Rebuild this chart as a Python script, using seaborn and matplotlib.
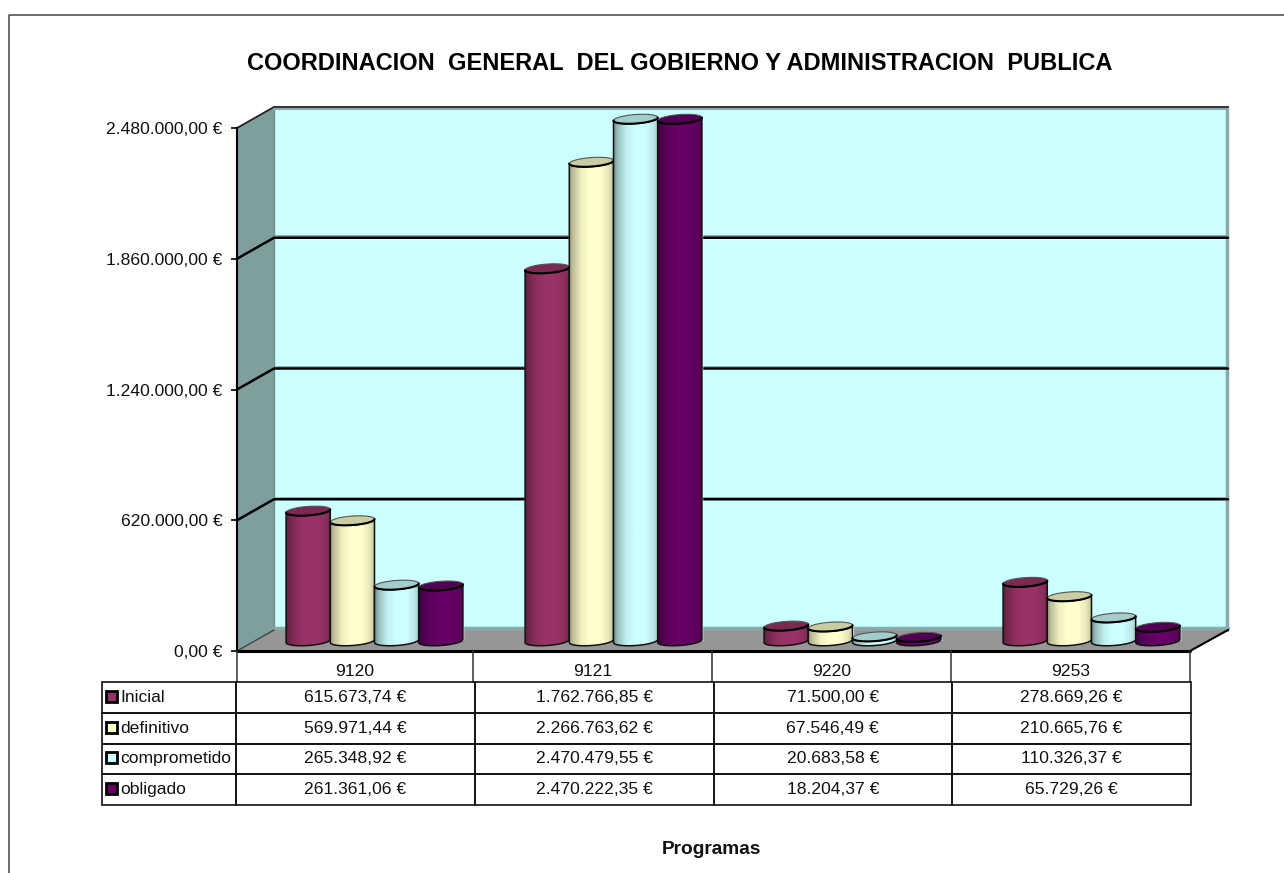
# Presupuesto por programas, columnas cilindricas con tabla de datos debajo

import numpy as np
import pandas as pd
import matplotlib.pyplot as plt
from matplotlib.patches import Polygon, Rectangle
import seaborn as sns

programas = ["9120", "9121", "9220", "9253"]
partidas = ["Inicial", "definitivo", "comprometido", "obligado"]
inicial = [615673.74, 1762766.85, 71500.00, 278669.26]
definitivo = [569971.44, 2266763.62, 67546.49, 210665.76]
comprometido = [265348.92, 2470479.55, 20683.58, 110326.37]
obligado = [261361.06, 2470222.35, 18204.37, 65729.26]
ticks = [0, 620000, 1240000, 1860000, 2480000]
titulo = "COORDINACION  GENERAL  DEL GOBIERNO Y ADMINISTRACION  PUBLICA"
colores = ["#993366", "#FFFFCC", "#CCFFFF", "#660066"]
tapas = ["#7A2952", "#CCCCA3", "#A3CCCC", "#520052"]


def euros(v):
    return f"{v:,.2f} €".replace(",", "#").replace(".", ",").replace("#", ".")


valores = [inicial, definitivo, comprometido, obligado]
df = pd.DataFrame({"programa": programas * 4,
                   "partida": np.repeat(partidas, 4),
                   "importe": np.concatenate(valores)})

sns.set_theme(style="white")
plt.rcParams["font.family"] = ["Liberation Sans", "DejaVu Sans"]

W, H = 1284, 873
fig = plt.figure(figsize=(W / 100, H / 100), dpi=100)


def caja(x0, y0, x1, y1):
    # caja en pixeles de la imagen a coordenadas de figura
    return [x0 / W, 1 - y1 / H, (x1 - x0) / W, (y1 - y0) / H]


# fondo en pixeles: paredes y suelo
fondo = fig.add_axes([0, 0, 1, 1], zorder=0)
fondo.set_xlim(0, W)
fondo.set_ylim(H, 0)
fondo.axis("off")

# eje de valores en el plano frontal
eje = fig.add_axes(caja(237, 128, 1190, 651), zorder=1)
eje.set_facecolor("none")
eje.set_xlim(0, 1)
eje.set_ylim(0, 2480000)
eje.set_xticks([])
eje.set_yticks(ticks)
eje.set_yticklabels([euros(t) for t in ticks], fontsize=12.6, color="#111111")
eje.tick_params(axis="y", length=4.5, width=1.2, color="black", left=True, pad=6)
for lado in ["top", "right", "bottom"]:
    eje.spines[lado].set_visible(False)
eje.spines["left"].set_color("black")
eje.spines["left"].set_linewidth(1.5)

# columnas
ax = fig.add_axes(caja(255, 117, 1211, 641), zorder=2)
sns.barplot(data=df, x="programa", y="importe", hue="partida", order=programas,
            hue_order=partidas, palette=colores, saturation=1, width=0.74, gap=0,
            errorbar=None, legend=False, ax=ax)
ax.set_xlim(-0.5, 3.5)
ax.set_ylim(0, 2480000)
ax.set_facecolor("none")
ax.axis("off")

# capa superior en pixeles: cilindros, tabla, textos
capa = fig.add_axes([0, 0, 1, 1], zorder=3)
capa.set_facecolor("none")
capa.set_xlim(0, W)
capa.set_ylim(H, 0)
capa.set_autoscale_on(False)
capa.axis("off")

# paredes
fondo.add_patch(Polygon([(237, 128), (274, 107), (274, 630), (237, 651)], fc="#7F9F9F", ec="none"))
fondo.add_patch(Rectangle((274, 107), 954, 523, fc="#CCFFFF", ec="none"))
fondo.add_patch(Polygon([(237, 651), (274, 630), (1228, 630), (1190, 651)], fc="#969696", ec="none"))
fondo.plot([274, 274], [107, 630], color="#6F8F8F", lw=1)
fondo.plot([1227, 1227], [107, 630], color="#88AAAA", lw=2.5)
fondo.plot([274, 1228], [628, 628], color="#88AAAA", lw=2.5)
fondo.plot([237, 274, 1228], [128, 107, 107], color="#222222", lw=1.3)
fondo.plot([274, 1228], [109, 109], color="#88AAAA", lw=1.5)
fondo.plot([1190, 1228], [651, 630], color="black", lw=1.5)
fondo.plot([237, 274], [651, 630], color="#444444", lw=1)
fondo.plot([237, 1190], [651, 651], color="black", lw=2.2)

# rejilla sacada de los ticks, desplazada a la pared del fondo
a_pixel = fondo.transData.inverted()
for t in ticks[1:-1]:
    yp = a_pixel.transform(eje.transData.transform((0, t)))[1]
    fondo.plot([274, 1228], [yp - 22.5, yp - 22.5], color="#88AAAA", lw=2, solid_capstyle="butt")
    fondo.plot([237, 274, 1228], [yp, yp - 21, yp - 21], color="black", lw=1.8)

# cilindros sobre las barras de seaborn
perfil_x = [0, 0.1, 0.28, 0.45, 0.7, 0.88, 1]
perfil_c = [0.55, 0.75, 0.94, 1, 1, 0.9, 0.72]
k = 0.07
b = 4.5
th = np.linspace(np.pi, 0, 40)
z = 5
for c in range(len(programas)):
    for h, cont in enumerate(ax.containers):
        barra = cont[c]
        x0, yb = a_pixel.transform(ax.transData.transform((barra.get_x(), 0)))
        x1, yt = a_pixel.transform(ax.transData.transform((barra.get_x() + barra.get_width(), barra.get_height())))
        cx, r = (x0 + x1) / 2, (x1 - x0) / 2
        abajo = np.c_[cx + r * np.cos(th), yb + b * np.sin(th) - k * r * np.cos(th)]
        arriba = np.c_[cx + r * np.cos(th), yt + b * np.sin(th) - k * r * np.cos(th)]
        cuerpo = np.vstack([abajo, arriba[::-1]])

        base = np.array(plt.matplotlib.colors.to_rgb(colores[h]))
        s = np.linspace(0, 1, 60)
        grad = np.clip(np.outer(np.interp(s, perfil_x, perfil_c), base), 0, 1)
        im = capa.imshow(grad[None, :, :], extent=[x0 - 1, x1 + 1, yb + b + 4, yt - b - 4],
                         aspect="auto", zorder=z, interpolation="bilinear")
        im.set_clip_path(Polygon(cuerpo, transform=capa.transData))
        capa.add_patch(Polygon(cuerpo, fc="none", ec="#111111", lw=1.1, zorder=z + 1))

        tapa = np.vstack([arriba, np.c_[cx - r * np.cos(th), yt - b * np.sin(th) + k * r * np.cos(th)]])
        capa.add_patch(Polygon(tapa, fc=tapas[h], ec="#555555", lw=0.8, zorder=z + 2))
        capa.plot(arriba[:, 0], arriba[:, 1], color="black", lw=1.5, zorder=z + 3)
        z += 4

# cabecera de programas
cortes = [237, 473, 712, 951, 1190]
for xc in cortes:
    capa.plot([xc, xc], [651, 682], color="#333333", lw=1.1, zorder=1)
for i, p in enumerate(programas):
    capa.text((cortes[i] + cortes[i + 1]) / 2, 671, p, ha="center", va="center",
              fontsize=12.6, color="#111111")

# tabla de datos
filas = [[euros(v) for v in serie] for serie in valores]
anchos = [134 / 1089] + [238.75 / 1089] * 4
tabla = capa.table(cellText=[[n] + f for n, f in zip(partidas, filas)], colWidths=anchos,
                   cellLoc="center", bbox=[102 / W, 1 - 805 / H, 1089 / W, 123 / H], zorder=2)
tabla.auto_set_font_size(False)
for (fila, col), celda in tabla.get_celld().items():
    celda.set_fontsize(12.6)
    celda.set_edgecolor("#111111")
    celda.set_linewidth(1.2)
    celda.set_facecolor("none")
    celda.get_text().set_color("#111111")
    if col == 0:
        celda.PAD = 0.135
        celda.set_text_props(ha="left")

alto = 123 / 4
for i, color in enumerate(colores):
    yc = 682 + alto * (i + 0.5) - 1
    capa.add_patch(Rectangle((105.5, yc - 5.5), 11, 11, fc=color, ec="black", lw=2, zorder=3))

# marco y textos
capa.plot([9, 9, W], [H, 15, 15], color="#444444", lw=1.1, zorder=1)
capa.text(679.5, 63, titulo, ha="center", va="center", fontsize=17, fontweight="bold", color="black")
capa.text(711.5, 850, "Programas", ha="center", va="center", fontsize=13.8, fontweight="bold", color="#111111")

fig.savefig("out.png", dpi=100)
